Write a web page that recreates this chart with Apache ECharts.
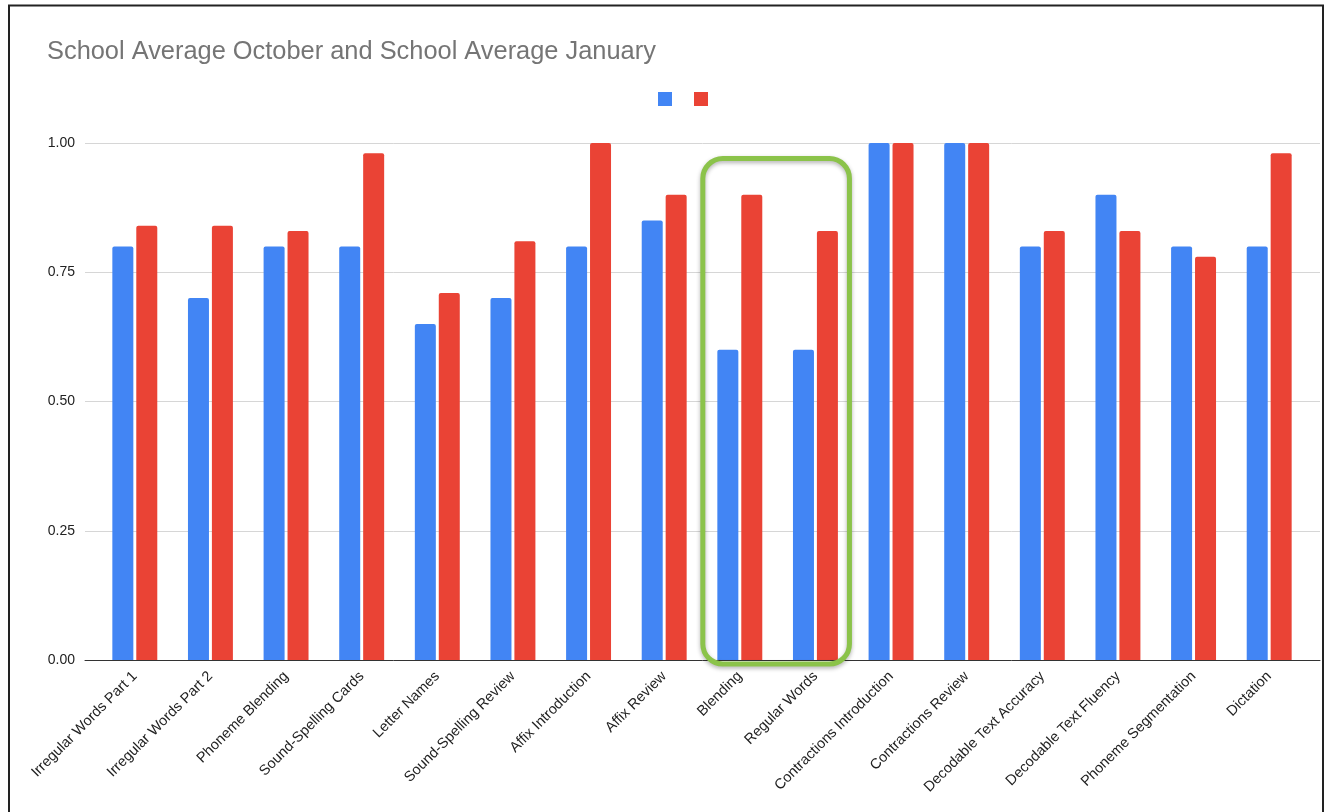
<!DOCTYPE html>
<html lang="en">
<head>
  <meta charset="UTF-8">
  <title>School Average October and School Average January</title>
  <style>
    html, body { margin: 0; padding: 0; background: #fff; }
    #chart { width: 1331px; height: 812px; }
  </style>
</head>
<body>
  <div id="chart"></div>

  <script src="https://cdn.jsdelivr.net/npm/echarts@6/dist/echarts.min.js"></script>
  <script>
    // data
    const categories = [
      'Irregular Words Part 1', 'Irregular Words Part 2', 'Phoneme Blending',
      'Sound-Spelling Cards', 'Letter Names', 'Sound-Spelling Review',
      'Affix Introduction', 'Affix Review', 'Blending', 'Regular Words',
      'Contractions Introduction', 'Contractions Review', 'Decodable Text Accuracy',
      'Decodable Text Fluency', 'Phoneme Segmentation', 'Dictation'
    ];
    const octoberAvg = [0.80, 0.70, 0.80, 0.80, 0.65, 0.70, 0.80, 0.85, 0.60, 0.60, 1.00, 1.00, 0.80, 0.90, 0.80, 0.80];
    const januaryAvg = [0.84, 0.84, 0.83, 0.98, 0.71, 0.81, 1.00, 0.90, 0.90, 0.83, 1.00, 1.00, 0.83, 0.83, 0.78, 0.98];
    const yTicks = [0, 0.25, 0.5, 0.75, 1];
    const highlighted = ['Blending', 'Regular Words'];

    const FONT = 'Arial, "Liberation Sans", sans-serif';
    const yMin = yTicks[0];
    const yMax = yTicks[yTicks.length - 1];
    const yStep = yTicks[1] - yTicks[0];

    let option = {
      animation: false,
      backgroundColor: '#fff',
      title: {
        text: 'School Average October and School Average January',
        left: 42,
        top: 34,
        textStyle: { fontFamily: FONT, fontSize: 25.4, fontWeight: 'normal', color: '#757575' }
      },
      legend: {
        left: 653,
        top: 87,
        itemWidth: 14,
        itemHeight: 14,
        itemGap: 22,
        icon: 'rect',
        formatter: () => '',
        data: ['School Average October', 'School Average January']
      },
      // grid 0 carries the gridlines / y labels (wider), grid 1 carries the bars
      grid: [
        { left: 85, right: 11, top: 143, bottom: 152 },
        { left: 97, right: 24, top: 143, bottom: 152 }
      ],
      xAxis: [{
        gridIndex: 0,
        type: 'value',
        min: 0, max: 1,
        axisLine: { show: true, onZero: false, lineStyle: { color: '#333', width: 1 } },
        axisTick: { show: false },
        axisLabel: { show: false },
        splitLine: { show: false }
      }, {
        gridIndex: 1,
        type: 'category',
        data: categories,
        axisLine: { show: false },
        axisTick: { show: false },
        axisLabel: {
          interval: 0,
          rotate: 45,
          margin: 14,
          fontFamily: FONT,
          fontSize: 14.5,
          color: '#222'
        }
      }],
      yAxis: [{
        gridIndex: 0,
        type: 'value',
        min: yMin, max: yMax, interval: yStep,
        axisLine: { show: false },
        axisTick: { show: false },
        axisLabel: {
          margin: 10,
          fontFamily: FONT,
          fontSize: 14,
          color: '#222',
          formatter: (v) => v.toFixed(2)
        },
        splitLine: { lineStyle: { color: '#d6d6d6', width: 1 } }
      }, {
        gridIndex: 1,
        type: 'value',
        min: yMin, max: yMax, interval: yStep,
        show: false
      }],
      series: [{
        name: 'School Average October',
        type: 'bar',
        xAxisIndex: 1, yAxisIndex: 1,
        barWidth: 21,
        barGap: '14%',
        itemStyle: { color: '#4285F4', borderRadius: [2, 2, 0, 0] },
        data: octoberAvg
      }, {
        name: 'School Average January',
        type: 'bar',
        xAxisIndex: 1, yAxisIndex: 1,
        barWidth: 21,
        barGap: '14%',
        itemStyle: { color: '#EA4335', borderRadius: [2, 2, 0, 0] },
        data: januaryAvg
      }]
    };

    let dom = document.getElementById('chart');
    let chart = echarts.init(dom, null, { renderer: 'canvas' });
    chart.setOption(option);

    // green highlight box around the two picked categories
    let x1 = chart.convertToPixel({ xAxisIndex: 1 }, highlighted[0]) - 37;
    let x2 = chart.convertToPixel({ xAxisIndex: 1 }, highlighted[1]) + 34;
    let y1 = chart.convertToPixel({ yAxisIndex: 1 }, 0.97);
    let y2 = chart.convertToPixel({ yAxisIndex: 1 }, 0) + 4;

    chart.setOption({
      graphic: [{
        type: 'rect',
        z: 100,
        shape: { x: x1, y: y1, width: x2 - x1, height: y2 - y1, r: 20 },
        style: {
          fill: null,
          stroke: '#8BC34A',
          lineWidth: 5,
          shadowBlur: 4,
          shadowOffsetY: 2,
          shadowColor: 'rgba(0,0,0,0.3)'
        }
      }, {
        // outer frame of the screenshot
        type: 'rect',
        z: 100,
        shape: { x: 9, y: 5.5, width: 1314, height: 830 },
        style: { fill: null, stroke: '#222', lineWidth: 2 }
      }]
    });
  </script>
</body>
</html>
